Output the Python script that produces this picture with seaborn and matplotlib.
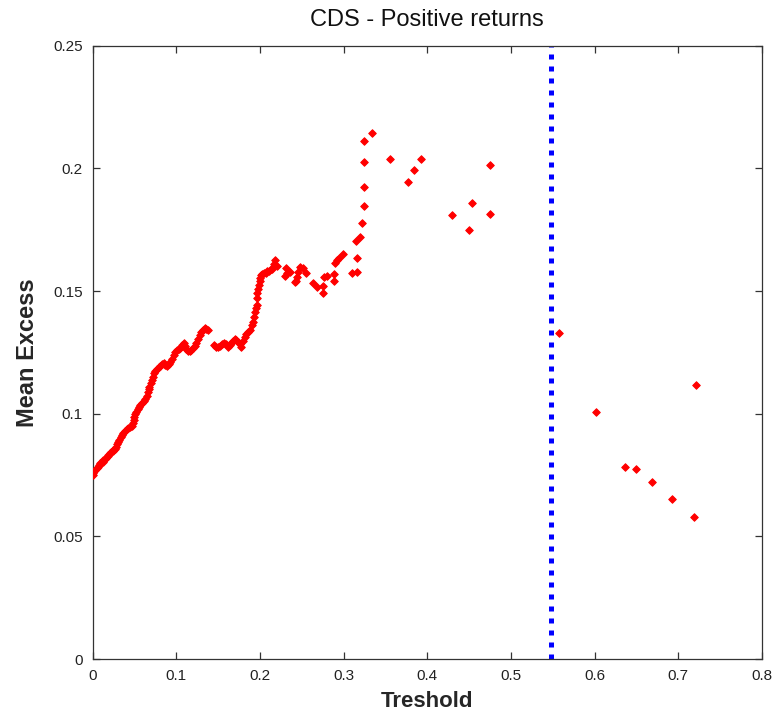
import matplotlib
matplotlib.use("Agg")
import matplotlib.pyplot as plt
import seaborn as sns
import pandas as pd

# ---- data ----
threshold = [
    0.000, 0.001, 0.002, 0.003, 0.005, 0.006, 0.008, 0.009, 0.010, 0.012,
    0.013, 0.015, 0.016, 0.018, 0.019, 0.021, 0.022, 0.024, 0.025, 0.027,
    0.028, 0.029, 0.031, 0.032, 0.034, 0.035, 0.037, 0.039, 0.041, 0.043,
    0.045, 0.047, 0.048, 0.049, 0.050, 0.051, 0.052, 0.054, 0.055, 0.057,
    0.059, 0.061, 0.063, 0.065, 0.066, 0.067, 0.068, 0.070, 0.071, 0.072,
    0.074, 0.075, 0.077, 0.079, 0.081, 0.083, 0.085, 0.087, 0.089, 0.091,
    0.093, 0.095, 0.097, 0.099, 0.101, 0.103, 0.105, 0.107, 0.109, 0.110,
    0.112, 0.114, 0.116, 0.118, 0.120, 0.122, 0.124, 0.126, 0.128, 0.130,
    0.132, 0.134, 0.136, 0.138,
    0.145, 0.147, 0.150, 0.152, 0.155, 0.157, 0.159, 0.162, 0.164, 0.166,
    0.168, 0.170, 0.172, 0.174, 0.176, 0.178, 0.180, 0.182, 0.184, 0.186,
    0.188, 0.190, 0.192, 0.193, 0.194, 0.195, 0.196, 0.197, 0.197, 0.198,
    0.199, 0.200, 0.200, 0.201, 0.203, 0.205, 0.207, 0.209, 0.211, 0.213,
    0.215, 0.217, 0.218, 0.220,
    0.230, 0.231, 0.232, 0.236, 0.242, 0.243, 0.244, 0.246, 0.248, 0.252,
    0.255, 0.264, 0.268, 0.275, 0.276, 0.277, 0.280, 0.288, 0.289, 0.290,
    0.292, 0.295, 0.299, 0.310, 0.316, 0.316, 0.315, 0.320, 0.322, 0.324,
    0.324, 0.324, 0.325, 0.334,
    0.356, 0.377, 0.384, 0.392, 0.430, 0.450, 0.453, 0.475, 0.475,
    0.557, 0.602, 0.636, 0.649, 0.669, 0.692, 0.719, 0.721,
]
mean_excess = [
    0.0752, 0.0760, 0.0765, 0.0772, 0.0778, 0.0783, 0.0790, 0.0797, 0.0800, 0.0805,
    0.0810, 0.0816, 0.0820, 0.0826, 0.0831, 0.0838, 0.0843, 0.0848, 0.0853, 0.0858,
    0.0866, 0.0875, 0.0884, 0.0893, 0.0905, 0.0912, 0.0920, 0.0930, 0.0938, 0.0942,
    0.0945, 0.0950, 0.0962, 0.0975, 0.0988, 0.0998, 0.1008, 0.1020, 0.1028, 0.1035,
    0.1042, 0.1050, 0.1060, 0.1072, 0.1088, 0.1100, 0.1110, 0.1125, 0.1138, 0.1150,
    0.1165, 0.1175, 0.1183, 0.1190, 0.1196, 0.1203, 0.1207, 0.1200, 0.1196, 0.1202,
    0.1212, 0.1222, 0.1238, 0.1250, 0.1258, 0.1265, 0.1268, 0.1280, 0.1290, 0.1275,
    0.1262, 0.1255, 0.1254, 0.1260, 0.1268, 0.1276, 0.1290, 0.1305, 0.1320, 0.1333,
    0.1343, 0.1350, 0.1347, 0.1340,
    0.1280, 0.1272, 0.1270, 0.1276, 0.1285, 0.1290, 0.1283, 0.1273, 0.1280, 0.1287,
    0.1295, 0.1305, 0.1300, 0.1293, 0.1285, 0.1273, 0.1295, 0.1314, 0.1325, 0.1333,
    0.1341, 0.1360, 0.1375, 0.1395, 0.1415, 0.1430, 0.1445, 0.1470, 0.1490, 0.1510,
    0.1525, 0.1540, 0.1555, 0.1565, 0.1570, 0.1572, 0.1575, 0.1580, 0.1582, 0.1590,
    0.1588, 0.1610, 0.1627, 0.1600,
    0.1561, 0.1593, 0.1572, 0.1579, 0.1538, 0.1541, 0.1559, 0.1579, 0.1599, 0.1593,
    0.1575, 0.1532, 0.1518, 0.1491, 0.1522, 0.1558, 0.1561, 0.1569, 0.1541, 0.1613,
    0.1627, 0.1636, 0.1650, 0.1572, 0.1579, 0.1636, 0.1703, 0.1722, 0.1778, 0.1845,
    0.1926, 0.2026, 0.2113, 0.2146,
    0.2038, 0.1945, 0.1995, 0.2038, 0.1809, 0.1748, 0.1859, 0.1815, 0.2015,
    0.1330, 0.1007, 0.0784, 0.0776, 0.0720, 0.0652, 0.0578, 0.1118,
]
cutoff = 0.548

title_text = "CDS - Positive returns"
x_label = "Treshold"
y_label = "Mean Excess"
x_ticks = [0, 0.1, 0.2, 0.3, 0.4, 0.5, 0.6, 0.7, 0.8]
x_tick_labels = ["0", "0.1", "0.2", "0.3", "0.4", "0.5", "0.6", "0.7", "0.8"]
y_ticks = [0, 0.05, 0.1, 0.15, 0.2, 0.25]
y_tick_labels = ["0", "0.05", "0.1", "0.15", "0.2", "0.25"]

df = pd.DataFrame({"threshold": threshold, "mean_excess": mean_excess})

# ---- style ----
sns.set_style("ticks", {"xtick.direction": "in", "ytick.direction": "in"})
plt.rcParams["font.family"] = ["Liberation Sans", "DejaVu Sans"]

fig = plt.figure(figsize=(7.82, 7.14), dpi=100)
ax = fig.add_axes([0.1183, 0.077, 0.8561, 0.859])

sns.scatterplot(data=df, x="threshold", y="mean_excess", ax=ax,
                marker="D", s=15, color="#ff0000", edgecolor="#ff0000",
                linewidth=0.7, zorder=3)

ax.axvline(cutoff, color="#0000ff", lw=3.6, linestyle=(0, (1, 1.4)), zorder=2)

ax.set_xlim(0, 0.8)
ax.set_ylim(0, 0.25)
ax.set_xticks(x_ticks)
ax.set_xticklabels(x_tick_labels)
ax.set_yticks(y_ticks)
ax.set_yticklabels(y_tick_labels)

for s in ax.spines.values():
    s.set_visible(True)
    s.set_color("#333333")
    s.set_linewidth(0.9)

ax.tick_params(axis="both", which="major", direction="in", length=5, width=0.9,
               color="#333333", labelsize=11, labelcolor="#222222",
               top=True, right=True, pad=7)

ax.set_title(title_text, fontsize=17, pad=14, color="#111111")
ax.set_xlabel(x_label, fontsize=16, fontweight="bold", labelpad=6)
ax.set_ylabel(y_label, fontsize=17, fontweight="bold", labelpad=10)

fig.savefig("out.png", dpi=100)
